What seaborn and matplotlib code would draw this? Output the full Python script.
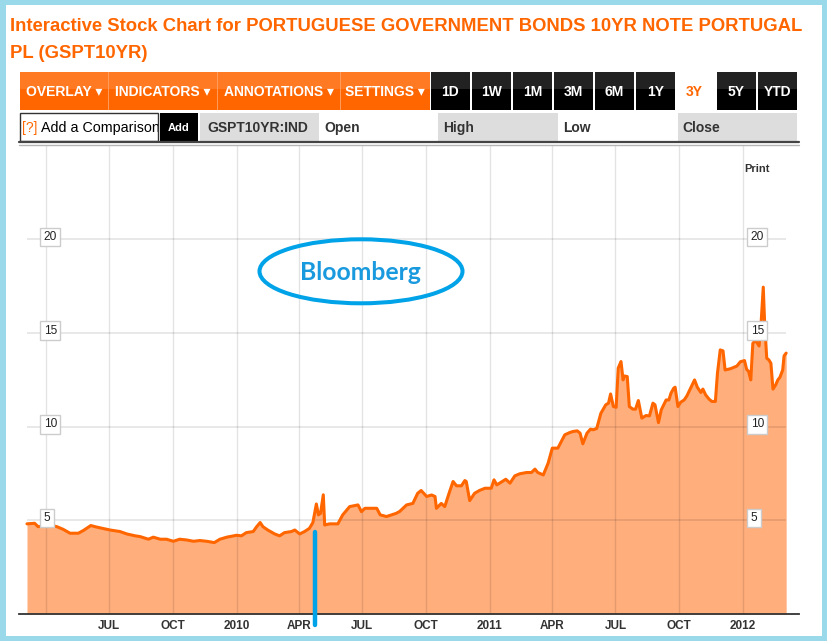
import matplotlib
matplotlib.use("Agg")
import matplotlib.pyplot as plt
from matplotlib.patches import Rectangle, Ellipse
from matplotlib.lines import Line2D
from matplotlib.transforms import blended_transform_factory
import seaborn as sns
import pandas as pd

# ---- values ------------------------------------------------------------
dates = [
    "2009-03-05", "2009-03-16", "2009-03-21", "2009-03-31", "2009-04-10", "2009-04-17",
    "2009-04-26", "2009-05-06", "2009-05-18", "2009-05-25", "2009-06-05", "2009-06-11",
    "2009-06-18", "2009-07-03", "2009-07-17", "2009-07-27", "2009-08-08", "2009-08-15",
    "2009-08-27", "2009-09-03", "2009-09-13", "2009-09-22", "2009-10-02", "2009-10-11",
    "2009-10-21", "2009-10-31", "2009-11-09", "2009-11-19", "2009-11-30", "2009-12-08",
    "2009-12-18", "2010-01-01", "2010-01-08", "2010-01-15", "2010-01-25", "2010-01-30",
    "2010-02-04", "2010-02-08", "2010-02-15", "2010-02-25", "2010-03-04", "2010-03-11",
    "2010-03-21", "2010-03-26", "2010-04-02", "2010-04-09", "2010-04-16", "2010-04-21",
    "2010-04-26", "2010-04-29", "2010-05-02", "2010-05-06", "2010-05-08", "2010-05-15",
    "2010-05-27", "2010-06-03", "2010-06-13", "2010-06-25", "2010-06-30", "2010-07-05",
    "2010-07-22", "2010-07-27", "2010-08-05", "2010-08-19", "2010-08-24", "2010-09-03",
    "2010-09-12", "2010-09-19", "2010-09-24", "2010-10-02", "2010-10-09", "2010-10-14",
    "2010-10-16", "2010-10-23", "2010-10-28", "2010-11-04", "2010-11-09", "2010-11-14",
    "2010-11-21", "2010-11-26", "2010-11-28", "2010-12-03", "2010-12-10", "2010-12-17",
    "2010-12-25", "2011-01-03", "2011-01-07", "2011-01-11", "2011-01-15", "2011-01-24",
    "2011-01-30", "2011-02-06", "2011-02-13", "2011-02-23", "2011-03-02", "2011-03-07",
    "2011-03-11", "2011-03-19", "2011-03-26", "2011-04-01", "2011-04-09", "2011-04-19",
    "2011-04-26", "2011-05-01", "2011-05-07", "2011-05-11", "2011-05-15", "2011-05-21",
    "2011-05-26", "2011-05-30", "2011-06-04", "2011-06-10", "2011-06-17", "2011-06-21",
    "2011-06-24", "2011-06-28", "2011-07-02", "2011-07-05", "2011-07-09", "2011-07-12",
    "2011-07-14", "2011-07-18", "2011-07-21", "2011-07-26", "2011-07-30", "2011-08-03",
    "2011-08-08", "2011-08-14", "2011-08-19", "2011-08-24", "2011-08-27", "2011-09-01",
    "2011-09-05", "2011-09-12", "2011-09-16", "2011-09-19", "2011-09-23", "2011-09-25",
    "2011-09-29", "2011-10-03", "2011-10-08", "2011-10-12", "2011-10-18", "2011-10-23",
    "2011-10-27", "2011-11-01", "2011-11-04", "2011-11-08", "2011-11-13", "2011-11-17",
    "2011-11-22", "2011-11-25", "2011-11-29", "2011-12-03", "2011-12-06", "2011-12-14",
    "2011-12-23", "2011-12-28", "2012-01-03", "2012-01-06", "2012-01-09", "2012-01-12",
    "2012-01-15", "2012-01-19", "2012-01-24", "2012-01-27", "2012-01-30", "2012-02-01",
    "2012-02-04", "2012-02-07", "2012-02-10", "2012-02-13", "2012-02-17", "2012-02-20",
    "2012-02-23", "2012-02-27", "2012-02-29", "2012-03-03",
]
yields = [
    4.81, 4.84, 4.66, 4.70, 4.72, 4.66,
    4.52, 4.31, 4.31, 4.45, 4.72, 4.66,
    4.60, 4.48, 4.40, 4.27, 4.17, 4.13,
    3.99, 4.10, 3.99, 3.99, 3.88, 3.99,
    3.95, 3.88, 3.92, 3.88, 3.81, 3.99,
    4.10, 4.20, 4.17, 4.34, 4.40, 4.66,
    4.88, 4.66, 4.48, 4.27, 4.17, 4.34,
    4.40, 4.48, 4.27, 4.40, 4.57, 4.88,
    5.87, 5.29, 5.37, 6.36, 4.75, 4.81,
    4.81, 5.29, 5.73, 5.82, 5.46, 5.64,
    5.64, 5.29, 5.20, 5.37, 5.47, 5.82,
    5.90, 6.44, 6.59, 6.27, 6.35, 6.27,
    5.64, 5.90, 5.73, 6.53, 7.07, 6.84,
    6.84, 7.12, 7.07, 6.05, 6.44, 6.59,
    6.71, 6.71, 7.16, 6.89, 6.98, 7.19,
    6.98, 7.37, 7.48, 7.55, 7.55, 7.73,
    7.55, 7.42, 8.05, 8.85, 8.85, 9.56,
    9.68, 9.74, 9.77, 9.65, 9.08, 9.65,
    9.86, 9.83, 9.90, 10.71, 11.16, 11.25,
    11.74, 11.07, 11.03, 13.12, 13.47, 12.49,
    12.70, 12.67, 11.07, 10.93, 10.93, 11.39,
    10.45, 10.59, 10.57, 11.25, 11.16, 10.21,
    10.89, 11.42, 11.42, 11.78, 12.05, 12.10,
    11.07, 11.30, 11.42, 11.64, 12.10, 12.49,
    12.10, 11.82, 12.00, 11.69, 11.46, 11.34,
    11.34, 12.85, 14.09, 14.04, 13.02, 13.09,
    13.23, 13.46, 13.52, 13.06, 12.93, 12.49,
    14.45, 14.59, 14.30, 15.60, 17.44, 15.52,
    13.65, 13.56, 13.38, 12.00, 12.23, 12.49,
    12.63, 13.02, 13.77, 13.92,
]

grid_dates = pd.date_range("2009-04-01", "2012-01-01", freq="QS")
tick_labels = ["JUL", "OCT", "2010", "APR", "JUL", "OCT", "2011", "APR", "JUL", "OCT", "2012"]
y_ticks = [5, 10, 15, 20]

title_lines = ["Interactive Stock Chart for PORTUGUESE GOVERNMENT BONDS 10YR NOTE PORTUGAL",
               "PL (GSPT10YR)"]
menu_buttons = ["OVERLAY \u25be", "INDICATORS \u25be", "ANNOTATIONS \u25be", "SETTINGS \u25be"]
range_buttons = ["1D", "1W", "1M", "3M", "6M", "1Y", "3Y", "5Y", "YTD"]
active_range = "3Y"
symbol = "GSPT10YR:IND"
quote_fields = ["Open", "High", "Low", "Close"]

# hand drawn marks on the screenshot
marker_date = "2010-04-24"
marker_span = (4.38, -0.58)
stamp_text = "Bloomberg"

# ---- styling -----------------------------------------------------------
W, H = 827, 641
ORANGE = "#ff6600"
FILL = "#ffae7c"
BLUE = "#00a2e8"
FRAME = "#99d9ea"
DARK = "#333333"

sns.set_style("white")
plt.rcParams["font.family"] = ["Liberation Sans", "DejaVu Sans"]

fig = plt.figure(figsize=(W / 100, H / 100), dpi=100, facecolor=FRAME)


def px(x, y):
    return x / W, 1 - y / H


def box(x0, y0, x1, y1, **kw):
    r = Rectangle(px(x0, y1), (x1 - x0) / W, (y1 - y0) / H,
                  transform=fig.transFigure, **kw)
    fig.add_artist(r)
    return r


def label(x, y, s, **kw):
    return fig.text(*px(x, y), s, **kw)


def fit_width(txt, max_px):
    w = txt.get_window_extent(renderer=fig.canvas.get_renderer()).width
    if w > max_px:
        txt.set_fontsize(txt.get_fontsize() * max_px / w)


box(6, 5, 822, 636, fc="white", ec="none", zorder=-1)

# title
for text, base in zip(title_lines, [30.7, 58.5]):
    t = label(10, base, text, color=ORANGE, fontsize=13.3, fontweight="bold",
              va="baseline", ha="left")
    fit_width(t, 802)

# toolbar
menu_edges = [20, 108, 217, 340, 430]
for i, name in enumerate(menu_buttons):
    x0, x1 = menu_edges[i], menu_edges[i + 1]
    box(x0, 72, x1, 110, fc=ORANGE, ec="none")
    box(x0, 72, x1, 89, fc="#ff7a22", ec="none")
    t = label((x0 + x1) / 2, 95.5, name, color="white", fontsize=10,
              fontweight="bold", ha="center", va="baseline")
    fit_width(t, x1 - x0 - 6)
for xe in menu_edges[1:-1]:
    box(xe - 0.5, 72, xe + 0.5, 110, fc="#ff9a5a", ec="none")

range_left = [431, 472, 513, 554, 595, 636, 675, 717, 758]
for x0, name in zip(range_left, range_buttons):
    x1 = x0 + 39
    if name == active_range:
        color = ORANGE
    else:
        box(x0, 72, x1, 110, fc="black", ec="none")
        box(x0, 72, x1, 89, fc="#222222", ec="none")
        color = "white"
    label((x0 + x1) / 2, 95.5, name, color=color, fontsize=10,
          fontweight="bold", ha="center", va="baseline")

# comparison row
cmp_box = box(20, 113, 158, 141, fc="white", ec=DARK, lw=1)
label(22, 132, "[?]", color=ORANGE, fontsize=10, va="baseline")
t = label(41, 132, "Add a Comparison", color="black", fontsize=10.3, va="baseline")
t.set_clip_path(cmp_box)
box(160, 113, 198, 141, fc="black", ec="none")
label(179, 131, "Add", color="white", fontsize=8, fontweight="bold",
      ha="center", va="baseline")
sym_box = box(200, 113, 319, 141, fc="#dddddd", ec="none")
t = label(207, 132, symbol, color=DARK, fontsize=10, fontweight="bold", va="baseline")
t.set_clip_path(sym_box)
box(438, 113, 558, 141, fc="#dddddd", ec="none")
box(678, 113, 797, 141, fc="#dddddd", ec="none")
for x, name in zip([324, 443, 563, 682], quote_fields):
    label(x, 132, name, color=DARK, fontsize=10, fontweight="bold", va="baseline")

# chart frame top
fig.add_artist(Line2D([19 / W, 799 / W], [1 - 142 / H] * 2, color="#444444",
                      lw=1.6, transform=fig.transFigure))
fig.add_artist(Line2D([19 / W, 799 / W], [1 - 144.5 / H] * 2, color="#b5b5b5",
                      lw=1, transform=fig.transFigure))

# ---- chart -------------------------------------------------------------
df = pd.DataFrame({"date": pd.to_datetime(dates), "yield": yields})

ax = fig.add_axes([19 / W, 1 - 614 / H, 780 / W, 468 / H])
ax.set_facecolor("white")
ax.fill_between(df["date"], df["yield"], 0, color=FILL, lw=0, zorder=1)
ax.vlines(grid_dates.to_pydatetime(), 0, 25, color="black", alpha=0.11, lw=1, zorder=2)
ax.hlines(y_ticks, df["date"].iloc[0], df["date"].iloc[-1], color="black",
          alpha=0.11, lw=1.2, zorder=2)
sns.lineplot(data=df, x="date", y="yield", ax=ax, color=ORANGE, lw=2.2, zorder=3)

ax.set_xlim(pd.Timestamp("2009-02-21 12:00"), pd.Timestamp("2012-03-21 12:00"))
ax.set_ylim(0, 24.97)
ax.set_xlabel("")
ax.set_ylabel("")
ax.set_yticks([])
ax.set_xticks(grid_dates[1:].to_pydatetime())
ax.set_xticklabels(tick_labels, fontsize=8.5, fontweight="bold", color=DARK)
ax.tick_params(axis="x", length=0, pad=4)
for side in ["left", "right", "top"]:
    ax.spines[side].set_visible(False)
ax.spines["bottom"].set_color(DARK)
ax.spines["bottom"].set_linewidth(1.3)

# boxed value labels on both sides
trans = blended_transform_factory(ax.transAxes, ax.transData)
for v in y_ticks:
    for xa in (0.0317, 0.938):
        ax.text(xa, v + 0.12, str(v), transform=trans, ha="left", va="center",
                fontsize=8.6, color="#222222", zorder=5,
                bbox=dict(boxstyle="square,pad=0.28", fc="white", ec="#cccccc", lw=1))

label(744, 172, "Print", color=DARK, fontsize=8, fontweight="bold", va="baseline")

# annotation drawn on top of the screenshot
ax.plot([pd.Timestamp(marker_date)] * 2, list(marker_span), color=BLUE, lw=3.2,
        solid_capstyle="round", clip_on=False, zorder=6)
fig.add_artist(Ellipse(px(361, 271.3), 203 / W, 64 / H, transform=fig.transFigure,
                       fc="none", ec=BLUE, lw=2.9))
t = label(360, 280, stamp_text, color="#1a9ade", fontsize=17.8, fontweight="bold",
          family=["Lato", "DejaVu Sans"], ha="center", va="baseline")
fit_width(t, 124)

fig.savefig("out.png", dpi=100, facecolor=FRAME)
